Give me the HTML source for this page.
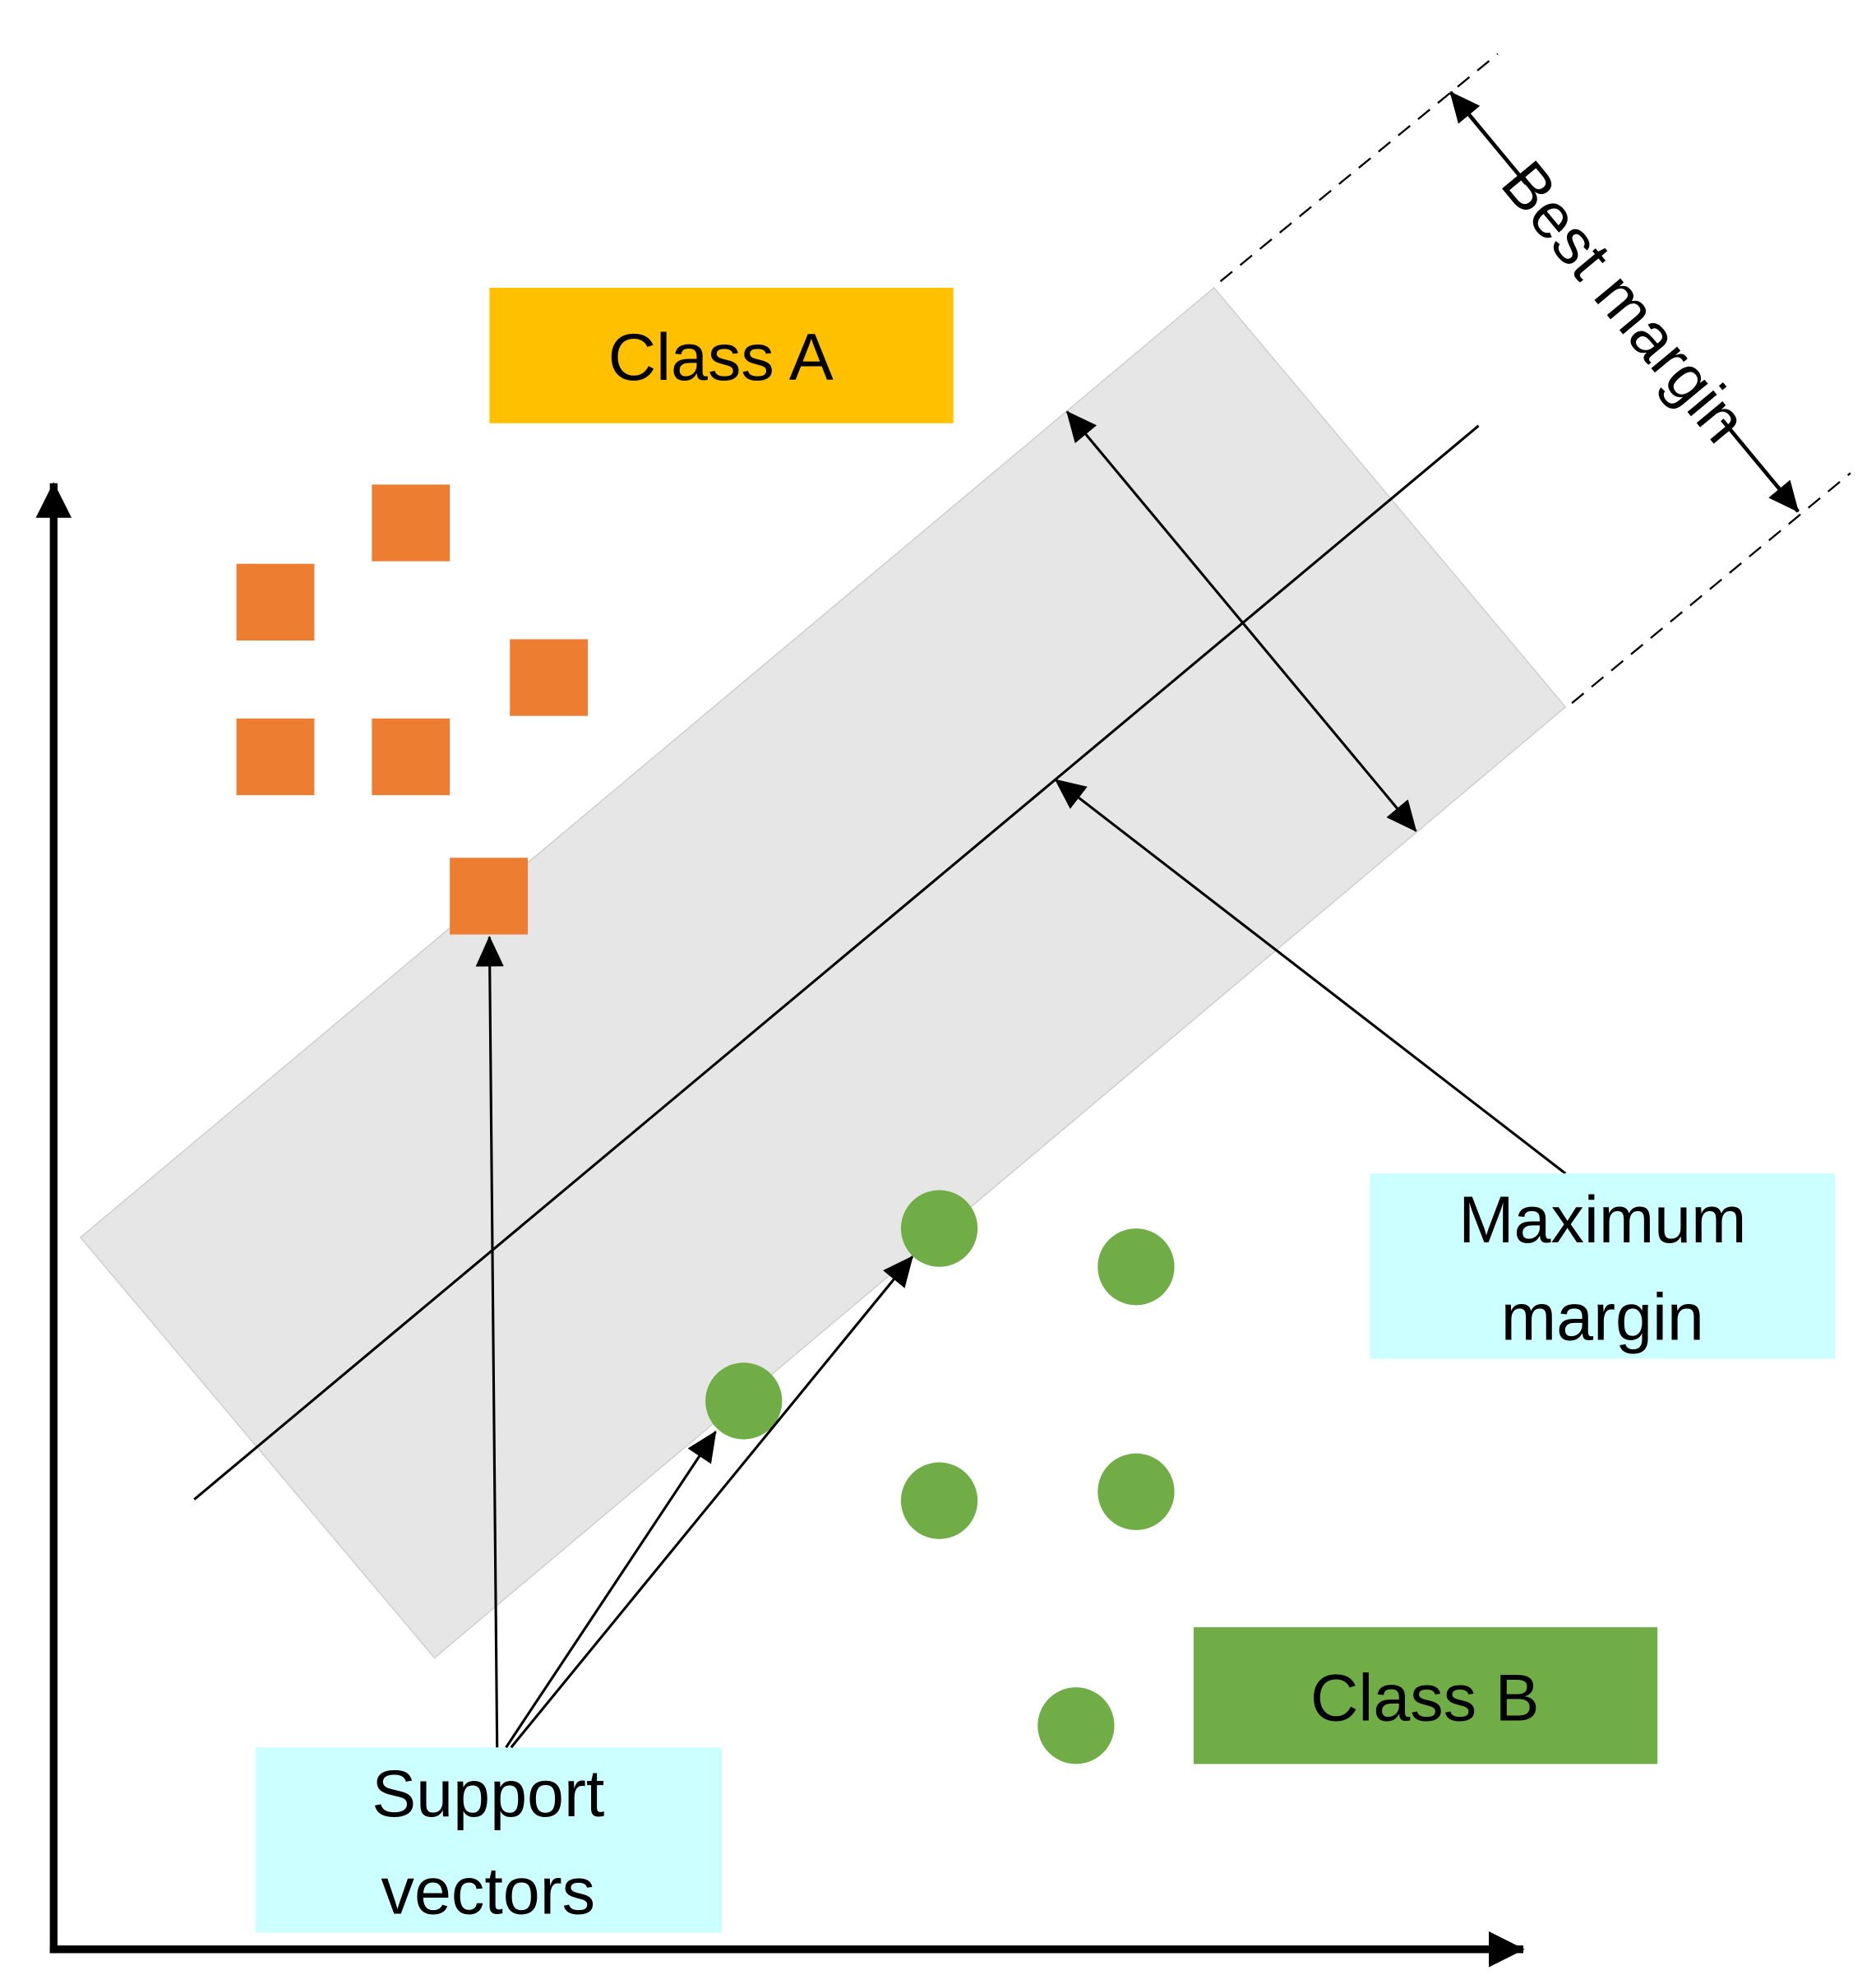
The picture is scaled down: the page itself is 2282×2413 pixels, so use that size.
<!DOCTYPE html>
<html><head><meta charset="utf-8"><style>html,body{margin:0;padding:0;background:#fff}svg{display:block}</style></head>
<body>
<svg width="2282" height="2413" viewBox="0 0 1468 1552" xmlns="http://www.w3.org/2000/svg" font-family="Liberation Sans, sans-serif">
<defs>
<marker id="ah" markerWidth="10" markerHeight="10" refX="9" refY="5" orient="auto-start-reverse" markerUnits="userSpaceOnUse" viewBox="0 0 10 10">
<path d="M0,0 L10,5 L0,10 z" fill="#000"/></marker>
<marker id="ahb" markerWidth="28" markerHeight="28" refX="27" refY="14" orient="auto-start-reverse" markerUnits="userSpaceOnUse" viewBox="0 0 28 28">
<path d="M0,0 L28,14 L0,28 z" fill="#000"/></marker>
<marker id="ahm" markerWidth="24" markerHeight="22" refX="23" refY="11" orient="auto-start-reverse" markerUnits="userSpaceOnUse" viewBox="0 0 24 22">
<path d="M0,0 L24,11 L0,22 z" fill="#000"/></marker>
</defs>
<polygon points="950,225 1225,553 340,1297 63,968" fill="#e6e6e6" stroke="#d0d0d0" stroke-width="1"/>
<line x1="152" y1="1173" x2="1157" y2="333" stroke="#000" stroke-width="2"/>
<line x1="955" y1="220" x2="1172" y2="42" stroke="#000" stroke-width="1.5" stroke-dasharray="12,8"/>
<line x1="1230" y1="550" x2="1448" y2="370" stroke="#000" stroke-width="1.5" stroke-dasharray="12,8"/>
<line x1="1135" y1="72" x2="1407" y2="400" stroke="#000" stroke-width="3" marker-start="url(#ahm)" marker-end="url(#ahm)"/>
<g transform="translate(1271,236) rotate(50.3)">
<rect x="-120" y="-30" width="240" height="60" fill="#fff"/>
<text x="0" y="17" text-anchor="middle" font-size="50" fill="#000">Best margin</text></g>
<line x1="835" y1="322" x2="1108" y2="650" stroke="#000" stroke-width="2" marker-start="url(#ahm)" marker-end="url(#ahm)"/>
<line x1="1225" y1="918" x2="826" y2="610" stroke="#000" stroke-width="2" marker-end="url(#ahm)"/>
<rect x="383" y="225" width="363" height="106" fill="#FFC000"/>
<text x="564" y="297" text-anchor="middle" font-size="52" fill="#000">Class A</text>
<rect x="934" y="1273" width="363" height="107" fill="#70AD47"/>
<text x="1115" y="1346" text-anchor="middle" font-size="52" fill="#000">Class B</text>
<rect x="1072" y="918" width="364" height="145" fill="#CCFFFF"/>
<text x="1254" y="972" text-anchor="middle" font-size="52" fill="#000">Maximum</text>
<text x="1254" y="1048" text-anchor="middle" font-size="52" fill="#000">margin</text>
<rect x="200" y="1367" width="365" height="145" fill="#CCFFFF"/>
<text x="382" y="1421" text-anchor="middle" font-size="52" fill="#000">Support</text>
<text x="382" y="1497" text-anchor="middle" font-size="52" fill="#000">vectors</text>
<g fill="#ED7D31">
<rect x="291" y="379" width="61" height="60"/><rect x="185" y="441" width="61" height="60"/>
<rect x="399" y="500" width="61" height="60"/><rect x="185" y="562" width="61" height="60"/>
<rect x="291" y="562" width="61" height="60"/><rect x="352" y="671" width="61" height="60"/>
</g>
<g fill="#70AD47">
<circle cx="735" cy="961" r="30"/><circle cx="889" cy="991" r="30"/><circle cx="582" cy="1096" r="30"/>
<circle cx="735" cy="1174" r="30"/><circle cx="889" cy="1167" r="30"/><circle cx="842" cy="1350" r="30"/>
</g>
<line x1="389" y1="1367" x2="383" y2="733" stroke="#000" stroke-width="2" marker-end="url(#ahm)"/>
<line x1="396" y1="1367" x2="560" y2="1120" stroke="#000" stroke-width="2" marker-end="url(#ahm)"/>
<line x1="400" y1="1367" x2="714" y2="983" stroke="#000" stroke-width="2" marker-end="url(#ahm)"/>
<line x1="42" y1="1528" x2="42" y2="378" stroke="#000" stroke-width="6" marker-end="url(#ahb)"/>
<line x1="39" y1="1525" x2="1192" y2="1525" stroke="#000" stroke-width="6" marker-end="url(#ahb)"/>
</svg>
</body></html>
